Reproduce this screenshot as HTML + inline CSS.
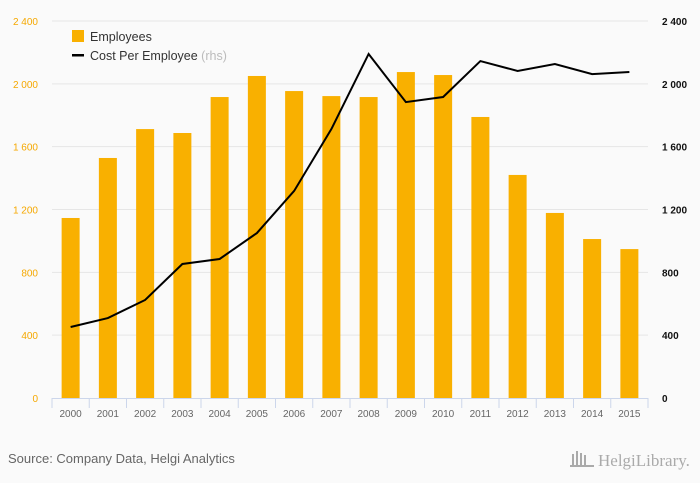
<!DOCTYPE html>
<html><head><meta charset="utf-8"><style>
body{margin:0;background:#fafafa;font-family:"Liberation Sans",sans-serif}
svg{display:block}
</style></head><body>
<svg width="700" height="483" id="c">
<rect width="700" height="483" fill="#fafafa"/>
<g id="grid"></g>
<g id="bars"></g>
<g id="line"></g>
<g id="axes"></g>
<g>
<rect x="72" y="30" width="12" height="12" fill="#f9b000"/>
<text x="90" y="41" font-size="12.5" fill="#333">Employees</text>
<rect x="72" y="54" width="12" height="2.5" fill="#000"/>
<text x="90" y="60" font-size="12.5" fill="#333">Cost Per Employee <tspan fill="#bbb">(rhs)</tspan></text>
</g>
<text x="8" y="463" font-size="13" fill="#666">Source: Company Data, Helgi Analytics</text>
<text x="598" y="466" font-size="17" fill="#aaa" font-family="Liberation Serif,serif">HelgiLibrary.</text>
<g fill="#aaa"><rect x="572" y="454" width="2" height="12"/><rect x="576" y="451" width="2" height="15"/><rect x="580" y="453" width="2" height="13"/><rect x="584" y="455" width="2" height="11"/><rect x="570" y="465" width="24" height="2"/></g>
</svg>
<script>
const years=["2000","2001","2002","2003","2004","2005","2006","2007","2008","2009","2010","2011","2012","2013","2014","2015"];
const employees=[1146,1528,1712,1687,1916,2050,1954,1922,1916,2075,2056,1789,1420,1178,1012,948];
const costPerEmployee=[452,509,624,853,885,1050,1318,1712,2190,1884,1916,2145,2082,2126,2062,2075];
const ticks=[0,400,800,1200,1600,2000,2400];
const tickLabels=["0","400","800","1 200","1 600","2 000","2 400"];
const NS="http://www.w3.org/2000/svg";
const x0=52,x1=648,y0=398,yTop=21,maxV=2400;
const bw=(x1-x0)/years.length;
const y=v=>y0-(v/maxV)*(y0-yTop);
const xc=i=>x0+bw*(i+0.5);
function mk(p,tag,a){const e=document.createElementNS(NS,tag);for(const k in a)e.setAttribute(k,a[k]);document.getElementById(p).appendChild(e);return e;}
ticks.forEach((t,i)=>{
 if(t>0){const g=mk('grid','line',{x1:x0,x2:x1,y1:y(t),y2:y(t),stroke:'#e6e6e6'});
 
 }
 const l=mk('axes','text',{x:38,y:y(t)+4,'text-anchor':'end','font-size':10,fill:'#f5a800'});l.textContent=tickLabels[i];
 
 
 const r=mk('axes','text',{x:662,y:y(t)+4,'font-size':10,fill:'#111','font-weight':'bold'});r.textContent=tickLabels[i];
 
 
});
employees.forEach((v,i)=>{
 const b=mk('bars','rect',{x:xc(i)-9,y:y(v),width:18,height:y0-y(v),fill:'#f9b000'});
 
 
});
const p=mk('line','polyline',{points:costPerEmployee.map((v,i)=>xc(i)+','+y(v)).join(' '),fill:'none',stroke:'#000','stroke-width':2});


const ax=mk('axes','line',{x1:x0,x2:x1,y1:y0+0.5,y2:y0+0.5,stroke:'#ccd6eb'});


for(let i=0;i<=years.length;i++){const t=mk('axes','line',{x1:x0+bw*i,x2:x0+bw*i,y1:y0,y2:y0+10,stroke:'#ccd6eb'});
 
 }
years.forEach((yr,i)=>{const t=mk('axes','text',{x:xc(i),y:417,'text-anchor':'middle','font-size':10,fill:'#666'});t.textContent=yr;
 
 });
</script>
</body></html>
